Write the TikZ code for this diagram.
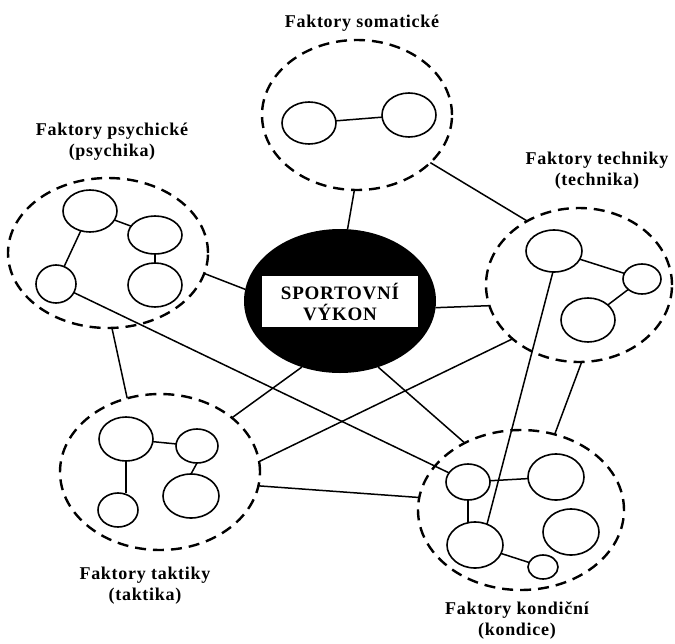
\documentclass[tikz,border=0pt]{standalone}
\usepackage{fontspec}
\setmainfont{Liberation Serif}
\newfontfamily\labfont[LetterSpace=4]{Liberation Serif}
\usetikzlibrary{shapes.geometric}
\begin{document}
\begin{tikzpicture}[x=1pt,y=-1pt,
  cluster/.style={ellipse, draw, line width=2.4pt, dash pattern=on 11pt off 7pt, inner sep=0pt, outer sep=0pt},
  bubble/.style={ellipse, draw, line width=1.6pt, inner sep=0pt, outer sep=0pt},
  link/.style={line width=1.5pt},
  lab/.style={font=\labfont\bfseries\fontsize{18}{21}\selectfont, align=center, inner sep=0pt},
  core/.style={ellipse, fill=black, inner sep=0pt, outer sep=0pt},
  corebox/.style={fill=white, inner sep=0pt, align=center, font=\labfont\bfseries\fontsize{19}{21}\selectfont}
]
\fill[white] (0,0) rectangle (675,643);
\useasboundingbox (0,0) rectangle (675,643);

% clusters
\node[cluster, minimum width=190, minimum height=150] (som)  at (357,115) {};
\node[cluster, minimum width=200, minimum height=150] (psy)  at (108,253) {};
\node[cluster, minimum width=186, minimum height=154] (tech) at (579,285) {};
\node[cluster, minimum width=200, minimum height=156] (tak)  at (160,472) {};
\node[cluster, minimum width=206, minimum height=160] (kon)  at (521,510) {};

% centre
\node[core, minimum width=192, minimum height=144] (ctr) at (340,301) {};
\node[corebox, minimum width=156, minimum height=51] (title) at (340,301.5) {SPORTOVNÍ\\VÝKON};

% labels
\node[lab] (lsom)  at (362,23)  {Faktory somatické};
\node[lab] (lpsy)  at (112,142) {Faktory psychické\\(psychika)};
\node[lab] (ltech) at (597,171) {Faktory techniky\\(technika)};
\node[lab] (ltak)  at (145,586) {Faktory taktiky\\(taktika)};
\node[lab] (lkon)  at (517,621) {Faktory kondiční\\(kondice)};

% somatic bubbles
\node[bubble, minimum width=54, minimum height=42] (s1) at (309,123) {};
\node[bubble, minimum width=54, minimum height=44] (s2) at (409,115) {};
% psychic bubbles
\node[bubble, minimum width=54, minimum height=42] (p1) at (90,211) {};
\node[bubble, minimum width=54, minimum height=38] (p2) at (155,235) {};
\node[bubble, minimum width=40, minimum height=38] (p3) at (56,284) {};
\node[bubble, minimum width=54, minimum height=44] (p4) at (155,285) {};
% technique bubbles
\node[bubble, minimum width=56, minimum height=42] (t1) at (554,251) {};
\node[bubble, minimum width=38, minimum height=30] (t2) at (642,279) {};
\node[bubble, minimum width=54, minimum height=44] (t3) at (588,320) {};
% tactics bubbles
\node[bubble, minimum width=54, minimum height=44] (k1) at (126,439) {};
\node[bubble, minimum width=42, minimum height=34] (k2) at (197,446) {};
\node[bubble, minimum width=40, minimum height=34] (k3) at (118,510) {};
\node[bubble, minimum width=56, minimum height=44] (k4) at (191,496) {};
% condition bubbles
\node[bubble, minimum width=44, minimum height=36] (n1) at (468,482) {};
\node[bubble, minimum width=56, minimum height=46] (n2) at (556,477) {};
\node[bubble, minimum width=56, minimum height=46] (n3) at (571,532) {};
\node[bubble, minimum width=56, minimum height=46] (n4) at (475,545) {};
\node[bubble, minimum width=30, minimum height=24] (n5) at (543,567) {};

% inner links
\draw[link] (s1) -- (s2);
\draw[link] (p1) -- (p2);
\draw[link] (p2) -- (p4);
\draw[link] (p1) -- (p3);
\draw[link] (t1) -- (t2);
\draw[link] (t2) -- (t3);
\draw[link] (k1) -- (k2);
\draw[link] (k1.south) -- (k3.north -| k1.south);
\draw[link] (k2.south) -- (k4.north);
\draw[link] (n1) -- (n2);
\draw[link] (n1.south) -- (n4.north -| n1.south);
\draw[link] (n4) -- (n5);

% outer links
\draw[link] (som.268) -- (ctr.84);
\draw[link] (som.327) -- (tech.129);
\draw[link] (psy.348) -- (ctr.173);
\draw[link] (ctr.356) -- (tech.193);
\draw[link] (psy.273) -- (tak.114);
\draw[link] (p3) -- (n1);
\draw[link] (ctr.240) -- (tak.37);
\draw[link] (ctr.300) -- (kon.130);
\draw[link] (tech.219) -- (tak.6);
\draw[link] (tak.352) -- (kon.173);
\draw[link] (t1.267) -- (n4.60);
\draw[link] (tech.272) -- (kon.66);
\end{tikzpicture}
\end{document}
